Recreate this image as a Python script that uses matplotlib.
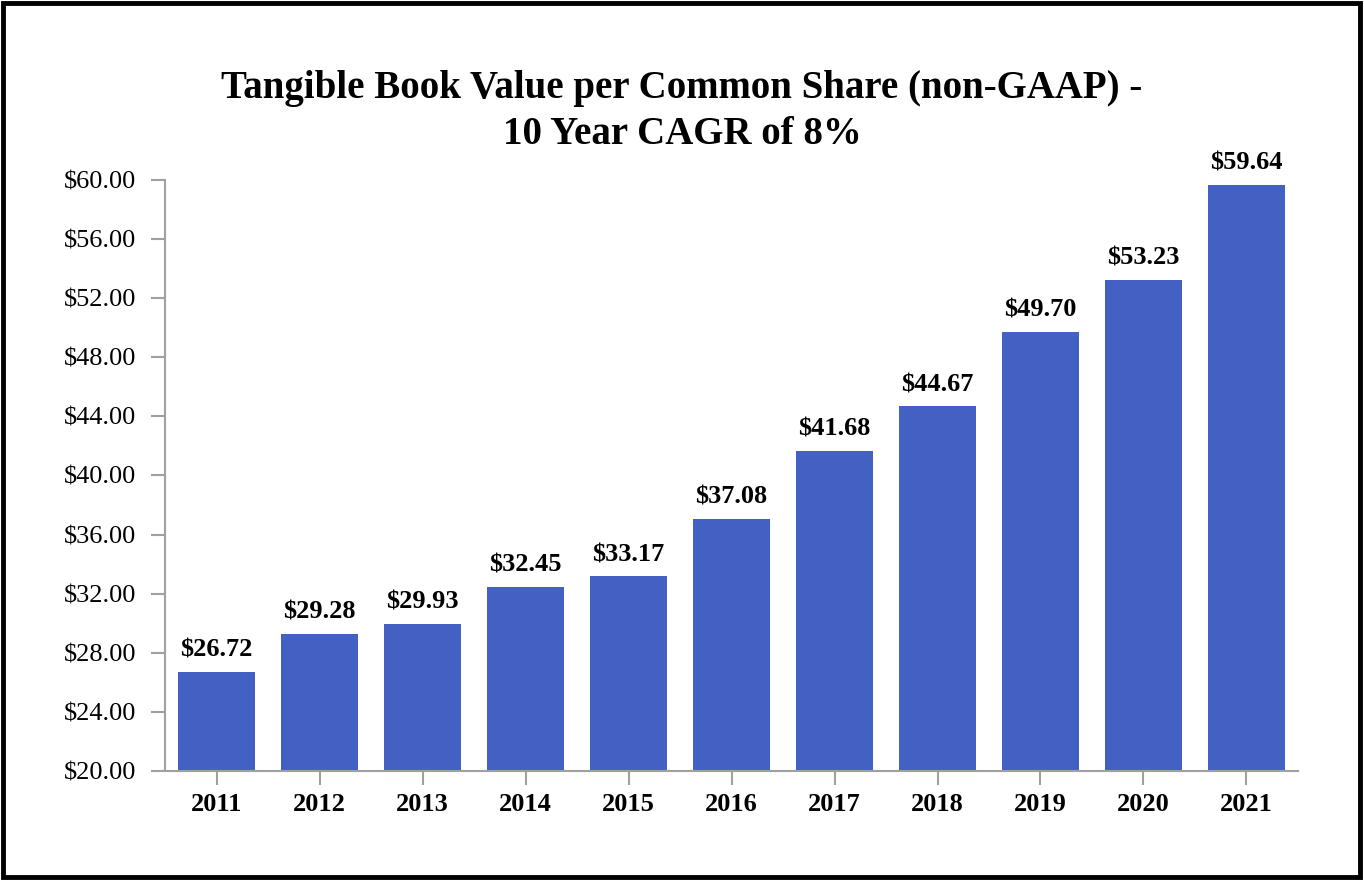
import matplotlib.pyplot as plt
from matplotlib.patches import Rectangle

years = ['2011', '2012', '2013', '2014', '2015', '2016', '2017', '2018', '2019', '2020', '2021']
values = [26.72, 29.28, 29.93, 32.45, 33.17, 37.08, 41.68, 44.67, 49.70, 53.23, 59.64]
yticks = [20, 24, 28, 32, 36, 40, 44, 48, 52, 56, 60]

plt.rcParams['font.family'] = ['Liberation Serif', 'DejaVu Serif']

fig = plt.figure(figsize=(13.64, 8.8), dpi=100)
ax = fig.add_axes([0.121, 0.1239, 0.8306, 0.6716])

x = range(len(years))
ax.bar(x, values, width=0.75, color='#4361c2', bottom=0)
for i, v in zip(x, values):
    ax.text(i, v + 0.7, '${:.2f}'.format(v), ha='center', va='bottom',
            fontsize=19, fontweight='bold')

ax.set_xlim(-0.5, len(years) - 0.5)
ax.set_ylim(20, 60)
ax.set_yticks(yticks)
ax.set_yticklabels(['${:.2f}'.format(t) for t in yticks], fontsize=19)
ax.set_xticks(list(x))
ax.set_xticklabels(years, fontsize=19, fontweight='bold')
ax.tick_params(axis='both', colors='#a0a0a0', length=10, width=1.5, labelcolor='black')
ax.tick_params(axis='y', pad=11)
ax.tick_params(axis='x', pad=6)
for s in ['top', 'right']:
    ax.spines[s].set_visible(False)
for s in ['left', 'bottom']:
    ax.spines[s].set_color('#a0a0a0')
    ax.spines[s].set_linewidth(1.5)

fig.text(0.5, 0.873, 'Tangible Book Value per Common Share (non-GAAP) -\n10 Year CAGR of 8%',
         ha='center', va='center', fontsize=28, fontweight='bold', linespacing=1.33)

fig.patches.append(Rectangle((0.002, 0.003), 0.995, 0.994, transform=fig.transFigure,
                             fill=False, edgecolor='black', linewidth=3.5))

plt.savefig('out.png', dpi=100)
